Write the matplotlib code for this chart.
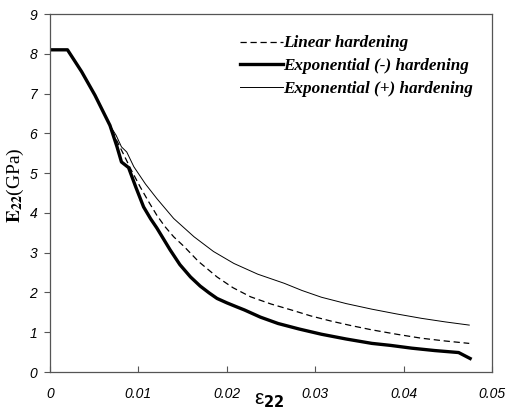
import matplotlib.pyplot as plt

# strain values and E22 (GPa) for each hardening law
x_lin = [0, 0.002, 0.0036, 0.0051, 0.0068, 0.0075, 0.0083, 0.0092, 0.0102, 0.0112,
         0.0121, 0.0130, 0.0140, 0.0152, 0.0168, 0.0189, 0.0207, 0.0227, 0.0250,
         0.0273, 0.0295, 0.0318, 0.0340, 0.0364, 0.0392, 0.0420, 0.0447, 0.0474]
y_lin = [8.1, 8.1, 7.55, 6.96, 6.2, 5.85, 5.49, 5.08, 4.66, 4.27,
         3.94, 3.66, 3.40, 3.15, 2.78, 2.39, 2.12, 1.89, 1.71,
         1.56, 1.41, 1.28, 1.17, 1.06, 0.95, 0.85, 0.78, 0.72]

x_neg = [0, 0.002, 0.0036, 0.0051, 0.0068, 0.0076, 0.0081, 0.0089, 0.0097, 0.0106,
         0.0114, 0.0121, 0.0127, 0.0136, 0.0147, 0.0159, 0.0170, 0.0180, 0.0189,
         0.0200, 0.0211, 0.0220, 0.0238, 0.0258, 0.0282, 0.0307, 0.0335, 0.0364,
         0.0385, 0.0409, 0.0435, 0.0462, 0.0475]
y_neg = [8.1, 8.1, 7.55, 6.96, 6.2, 5.66, 5.28, 5.14, 4.66, 4.15,
         3.85, 3.62, 3.40, 3.07, 2.70, 2.39, 2.16, 1.99, 1.85,
         1.74, 1.64, 1.56, 1.38, 1.22, 1.08, 0.95, 0.83, 0.72,
         0.67, 0.60, 0.54, 0.49, 0.34]

x_pos = [0, 0.002, 0.0036, 0.0051, 0.0068, 0.0075, 0.0081, 0.0087, 0.0095, 0.0108,
         0.0121, 0.0140, 0.0163, 0.0185, 0.0208, 0.0235, 0.0265, 0.0285, 0.0307,
         0.0335, 0.0364, 0.0392, 0.0420, 0.0447, 0.0474]
y_pos = [8.1, 8.1, 7.55, 6.96, 6.2, 5.95, 5.66, 5.53, 5.16, 4.73,
         4.36, 3.86, 3.40, 3.03, 2.73, 2.46, 2.23, 2.05, 1.88,
         1.72, 1.58, 1.46, 1.35, 1.26, 1.18]

xticks = [0, 0.01, 0.02, 0.03, 0.04, 0.05]
xlabels = ['0', '0.01', '0.02', '0.03', '0.04', '0.05']
yticks = list(range(10))

fig = plt.figure(figsize=(5.08, 4.12), dpi=100)
ax = fig.add_axes([0.098, 0.097, 0.871, 0.869])

ax.plot(x_lin, y_lin, color='black', lw=0.9, ls=(0, (5, 3)), label='Linear hardening')
ax.plot(x_neg, y_neg, color='black', lw=2.4, label='Exponential (-) hardening')
ax.plot(x_pos, y_pos, color='black', lw=0.7, label='Exponential (+) hardening')

ax.set_xlim(0, 0.05)
ax.set_ylim(0, 9)
ax.set_xticks(xticks)
ax.set_xticklabels(xlabels)
ax.set_yticks(yticks)

for s in ax.spines.values():
    s.set_color('#555555')
    s.set_linewidth(0.9)

ax.tick_params(axis='x', direction='in', length=4, pad=11, color='#555555')
ax.tick_params(axis='y', direction='out', length=4, pad=5, color='#555555')
for lab in ax.get_xticklabels() + ax.get_yticklabels():
    lab.set_fontfamily('Liberation Sans')
    lab.set_fontstyle('italic')
    lab.set_fontsize(10)

leg = ax.legend(loc='upper left', bbox_to_anchor=(0.43, 0.94), frameon=False,
                borderpad=0, borderaxespad=0,
                handlelength=2.5, handletextpad=0.05, labelspacing=0.4,
                prop={'family': 'Liberation Serif', 'style': 'italic',
                      'weight': 'bold', 'size': 12.3})

fig.text(0.03, 0.55, r'$\mathbf{E_{22}}$(GPa)', rotation=90, ha='center', va='center',
         fontsize=14, fontfamily='Liberation Serif', math_fontfamily='stix')
fig.text(0.531, 0.029, r'ε$_{\mathbf{22}}$', ha='center', va='center',
         fontsize=15, fontfamily='Liberation Sans', math_fontfamily='dejavusans')

fig.savefig('out.png', dpi=100)
